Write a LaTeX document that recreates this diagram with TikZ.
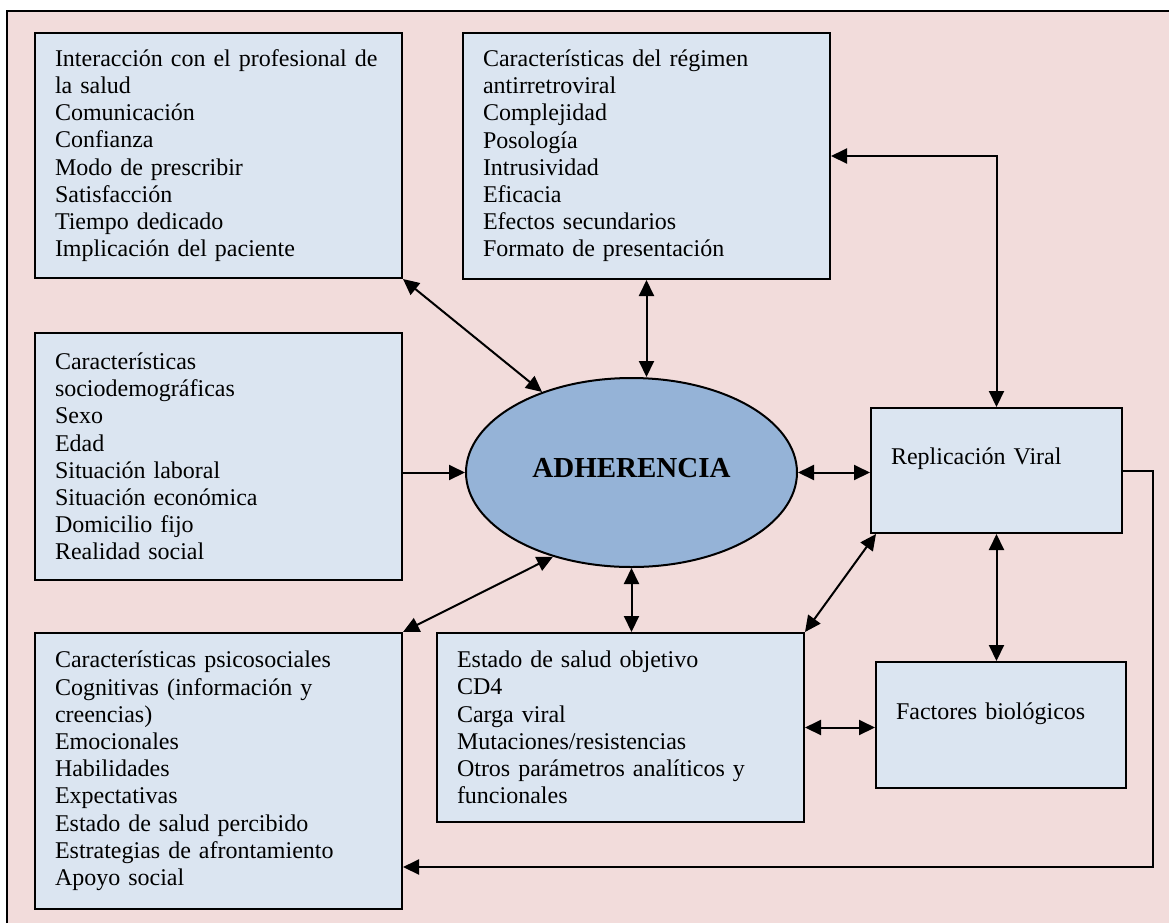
\documentclass[tikz,border=0pt]{standalone}
\usepackage{fontspec}
\setmainfont{Liberation Serif}
\usetikzlibrary{arrows.meta,shapes.geometric}
\definecolor{bgpink}{HTML}{F2DCDB}
\definecolor{boxblue}{HTML}{DBE5F1}
\definecolor{ellblue}{HTML}{95B3D7}
\begin{document}
\begin{tikzpicture}[x=0.5pt,y=-0.5pt,
  infobox/.style={draw=black, line width=1pt, fill=boxblue, align=left,
    inner xsep=10pt, inner ysep=0pt, font=\fontsize{12}{13.6}\selectfont},
  bigbox/.style={infobox, minimum width=183.5pt, text width=163.5pt},
  smallbox/.style={infobox, minimum width=125.5pt, text width=105.5pt},
  tip/.tip={Triangle[length=8pt,width=7.5pt]},
  link/.style={line width=1pt, tip-tip},
  onelink/.style={line width=1pt, -tip}]
\useasboundingbox (0,0) rectangle (1169,923);
\fill[bgpink] (7,11) rectangle (1169,923);
\draw[line width=1pt] (7,923) -- (7,11) -- (1169,11);

\node[bigbox, minimum height=122.5pt] (b1) at (218.5,155.5)
  {Interacción con el profesional de\\la salud\\Comunicación\\Confianza\\Modo de prescribir\\Satisfacción\\Tiempo dedicado\\Implicación del paciente};
\node[bigbox, minimum height=123pt] (b2) at (646.5,156)
  {Características del régimen\\antirretroviral\\Complejidad\\Posología\\Intrusividad\\Eficacia\\Efectos secundarios\\Formato de presentación};
\node[bigbox, minimum height=123.5pt] (b3) at (218.5,456.5)
  {Características\\sociodemográficas\\Sexo\\Edad\\Situación laboral\\Situación económica\\Domicilio fijo\\Realidad social};
\node[bigbox, minimum height=138pt] (b5) at (218.5,771)
  {Características psicosociales\\Cognitivas (información y\\creencias)\\Emocionales\\Habilidades\\Expectativas\\Estado de salud percibido\\Estrategias de afrontamiento\\Apoyo social};
\node[bigbox, minimum height=94.5pt] (est) at (620.5,727.5)
  {Estado de salud objetivo\\CD4\\Carga viral\\Mutaciones/resistencias\\Otros parámetros analíticos y\\funcionales};
\node[smallbox, minimum height=62.5pt] (rep) at (996.5,470.5)
  {\raisebox{14pt}{Replicación Viral}};
\node[smallbox, minimum width=125pt, text width=105pt, minimum height=63pt] (fac) at (1001,725)
  {\raisebox{14pt}{Factores biológicos}};
\node[ellipse, draw=black, line width=1pt, fill=ellblue, minimum width=165.5pt,
  minimum height=94.5pt, inner sep=0pt, font=\bfseries\fontsize{14.5}{16}\selectfont]
  (ell) at (631.5,472.5) {\raisebox{5pt}{ADHERENCIA}};

\coordinate (fb) at (1153,867);

\draw[link] (b1.south east) -- (ell.138);
\draw[link] (b2.south) -- (b2.south |- ell.north);
\draw[link] (b2.east) -| (rep.north);
\draw[onelink] (ell.west -| b3.east) -- (ell.west);
\draw[link] (ell.east) -- (ell.east -| rep.west);
\draw[link] (ell.227) -- (b5.north east);
\draw[link] (ell.south) -- (ell.south |- est.north);
\draw[link] ([xshift=3pt]rep.south west) -- (est.north east);
\draw[link] (rep.south) -- (rep.south |- fac.north);
\draw[link] (est.east) -- (est.east -| fac.west);
\draw[onelink] (rep.east) -| (fb) -- (fb -| b5.east);
\end{tikzpicture}
\end{document}
